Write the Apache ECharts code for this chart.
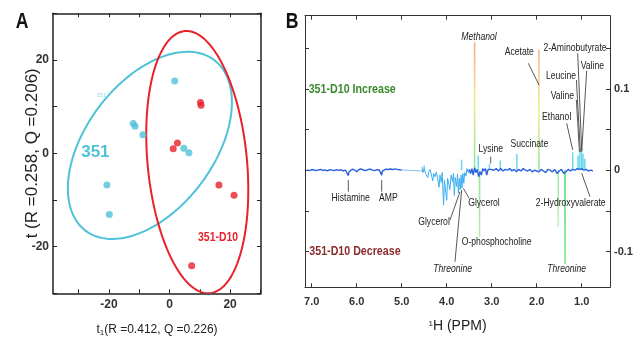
<!DOCTYPE html>
<html><head><meta charset="utf-8">
<script src="https://cdn.jsdelivr.net/npm/echarts@6/dist/echarts.min.js"></script>
<style>html,body{margin:0;padding:0;background:#fff}#c{width:640px;height:337px}</style>
</head><body><div id="c"></div>
<script>
// ---------- Panel A data ----------
const scores351 = [[1.7,15.5],[-12.0,6.4],[-11.4,5.8],[-8.8,4.0],[4.7,1.1],[6.4,0.1],[-20.7,-6.8],[-19.9,-13.1]];
const scoresD10 = [[10.4,10.3],[10.2,10.9],[2.6,2.2],[1.2,1.0],[16.3,-6.8],[21.3,-9.0],[7.3,-24.1]];
// ellipse: centre x, centre y, var x, var y, cov xy
const ellipse351 = [-6.5, 1.7, 734, 402, 250];
const ellipseD10 = [9.15, -1.9, 284, 790, -100];
const labelsA = [['351', -24.5, 0.3], ['351-D10', 16, -18], ['351', -22.5, 12.5]];
const ticksAx = [-30,-20,-10,0,10,20,30];
const ticksAy = [-30,-20,-10,0,10,20,30];
const tickLabelsAx = [-20,0,20];
const tickLabelsAy = [-20,0,20];

// ---------- Panel B data ----------
const baseLeft = [[7.10,0.0005],[7.05,-0.0005],[7.00,0.0008],[6.95,0.0002],[6.90,-0.0006],[6.85,0.0004],[6.80,0.0009],[6.75,-0.0003],[6.70,0.0003],[6.65,-0.0008],[6.60,0.0006],[6.55,0.0001],[6.50,-0.0004],[6.45,0.0007],[6.40,-0.0002],[6.35,0.0005],[6.30,-0.0009],[6.25,0.0002],[6.21,-0.0015],[6.19,-0.0065],[6.17,-0.002],[6.15,-0.0005],[6.10,0.0012],[6.05,0.0003],[6.00,-0.0018],[5.95,0.0009],[5.90,0.0015],[5.85,0.0002],[5.80,-0.0006],[5.75,0.0008],[5.70,0.0014],[5.65,0.0001],[5.60,-0.0005],[5.55,0.0006],[5.50,0.0002],[5.46,-0.001],[5.445,-0.006],[5.43,-0.0012],[5.40,0.0005],[5.35,0.0012],[5.30,0.0009],[5.25,0.0015],[5.20,0.0008],[5.15,0.0016],[5.10,0.001],[5.05,0.0006],[5.00,0.0003]];
const waterGap = [[5.00,0.0003],[4.55,-0.001]];
const baseMid = [[4.55,0.004],[4.53,-0.003],[4.50,0.002],[4.47,-0.004],[4.44,-0.002],[4.42,-0.009],[4.40,-0.002],[4.37,0.001],[4.34,-0.006],[4.31,-0.013],[4.29,-0.004],[4.26,-0.008],[4.23,-0.002],[4.20,-0.011],[4.17,-0.021],[4.15,-0.006],[4.12,-0.015],[4.10,-0.003],[4.07,-0.043],[4.05,-0.012],[4.02,-0.028],[4.00,-0.037],[3.98,-0.010],[3.95,-0.018],[3.93,-0.024],[3.90,-0.006],[3.87,-0.014],[3.85,-0.004],[3.83,-0.031],[3.81,-0.009],[3.78,-0.020],[3.76,-0.005],[3.74,-0.028],[3.72,-0.010],[3.70,-0.024],[3.68,-0.006],[3.66,-0.022],[3.64,-0.004],[3.62,-0.016],[3.60,-0.003],[3.57,-0.007],[3.55,0.002],[3.52,-0.003],[3.50,0.001]];
const baseRight = [[3.50,0.001],[3.47,-0.004],[3.44,0.002],[3.41,-0.006],[3.38,0.003],[3.35,-0.003],[3.32,0.001],[3.29,-0.008],[3.26,-0.002],[3.23,-0.006],[3.20,0.002],[3.17,-0.001],[3.14,0.002],[3.11,-0.006],[3.08,0.001],[3.05,0.002],[3.02,0.001],[3.00,0.002],[2.95,0.000],[2.90,0.002],[2.85,-0.001],[2.80,0.002],[2.75,-0.001],[2.70,0.001],[2.65,0.000],[2.60,0.002],[2.55,-0.001],[2.50,0.001],[2.45,-0.002],[2.40,0.001],[2.35,-0.001],[2.30,0.002],[2.25,0.000],[2.20,-0.001],[2.15,0.001],[2.10,-0.002],[2.05,0.000],[2.00,-0.001],[1.95,-0.002],[1.90,0.001],[1.85,-0.001],[1.80,-0.003],[1.75,0.001],[1.70,0.000],[1.65,-0.002],[1.60,0.001],[1.55,-0.004],[1.50,-0.001],[1.45,0.001],[1.40,-0.004],[1.35,-0.002],[1.30,0.001],[1.25,-0.001],[1.20,0.001],[1.15,0.000],[1.10,0.002],[1.05,0.001],[1.00,0.002],[0.95,0.000],[0.90,0.001],[0.85,-0.001],[0.80,0.000],[0.75,-0.001]];
const bigSpikes = [[3.38,0.157],[1.95,0.148],[3.27,-0.082],[1.37,-0.115],[1.52,-0.070]];
const smallPeaks = [[4.50,0.006],[3.67,0.013],[3.30,0.018],[3.05,0.008],[2.81,0.012],[2.44,0.020],[1.20,0.022],[1.08,0.018],[1.04,0.024],[1.00,0.026],[0.97,0.020],[0.93,0.014]];
const annotB = [['Methanol',3.282,0.1634],['Acetate',2.386,0.1457],['2-Aminobutyrate',1.148,0.1506],['Valine',0.763,0.1281],['Leucine',1.459,0.1158],['Valine',1.43,0.0912],['Ethanol',1.555,0.0658],['Lysine',3.022,0.0257],['Succinate',2.164,0.0322],['Histamine',6.134,-0.0338],['AMP',5.298,-0.0338],['Glycerol',4.282,-0.0634],['Glycerol',3.171,-0.0407],['Threonine',3.867,-0.1219],['O-phosphocholine',2.889,-0.0879],['2-Hydroxyvalerate',1.244,-0.0407],['Threonine',1.333,-0.1219]];
const leadersB = [[2.186,0.1315,1.948,0.1048],[1.088,0.1438,0.999,0.0248],[0.888,0.1224,0.999,0.0227],[1.117,0.1109,1.028,0.0227],[1.117,0.0863,1.05,0.0227],[1.333,0.0577,1.199,0.0249],[3.022,0.0166,3.022,0.0085],[6.187,-0.0121,6.187,-0.0264],[5.445,-0.0121,5.445,-0.0264],[3.927,-0.0613,3.704,-0.0265],[3.498,-0.0346,3.631,-0.0223],[3.816,-0.1125,3.667,-0.0244],[0.815,-0.0326,0.999,-0.0038]];
const titlesB = [['351-D10 Increase',6.10,0.0995],['351-D10 Decrease',6.04,-0.0994]];
const ticksBx = [1,2,3,4,5,6,7];
const ticksBy = [-0.1,-0.05,0,0.05,0.1,0.15];
const tickLabelsBy = [-0.1,0,0.1];

// ---------- styles ----------
const SANS = "'Liberation Sans',Arial,sans-serif";
const CYAN = '#4fc2d8', RED = '#e8222a';
const NARROW_SCALE = 0.82;
const italicNames = ['Methanol','Threonine'];
const titleColorsB = ['#3a8a2c','#8a2d2d'];
const spikeGradients = [
  [['#f6a88a',0],['#f2ea86',0.45],['#86e6a0',1]],
  [['#f7b48e',0],['#eff08a',0.5],['#8fe89a',1]],
  [['#8fe68e',0],['#b6f0a8',1]],
  [['#4fdc7c',0],['#7fe68a',1]],
  [['#a0eaa4',0],['#c2f2bc',1]]
];

const chart = echarts.init(document.getElementById('c'), null, {renderer:'canvas'});

function ellipseItem(color){
  return function(params, api){
    const cx=api.value(0), cy=api.value(1), sxx=api.value(2), syy=api.value(3), sxy=api.value(4);
    const a=Math.sqrt(sxx), c=sxy/a, d=Math.sqrt(syy-c*c);
    const pts=[];
    for(let i=0;i<=160;i++){const t=i/160*2*Math.PI; pts.push(api.coord([cx+a*Math.cos(t), cy+c*Math.cos(t)+d*Math.sin(t)]));}
    return {type:'polyline', shape:{points:pts}, style:{fill:null, stroke:color, lineWidth:2}};
  };
}
function narrowText(text, p, font, fill){
  return {type:'text', x:p[0], y:p[1], scaleX:NARROW_SCALE, style:{text:text, align:'center', verticalAlign:'middle', font:font, fill:fill}};
}
function axisCfg(o){
  return Object.assign({type:'value', splitLine:{show:false}}, o);
}
function frameLine(color,w){ return {show:true, onZero:false, lineStyle:{color:color,width:w}}; }
function ticks(vals,color){ return {show:true, inside:true, length:4, customValues:vals, lineStyle:{color:color}}; }

const option = {
  animation:false,
  grid:[
    {left:53, top:13.3, width:208, height:280, outerBoundsMode:'none', containLabel:false},
    {left:305, top:15.7, width:305, height:271.6, outerBoundsMode:'none', containLabel:false}
  ],
  xAxis:[
    axisCfg({gridIndex:0, min:-38.5, max:30.2, position:'bottom',
     axisLine:frameLine('#222',1.5), axisTick:ticks(ticksAx,'#222'),
     axisLabel:{customValues:tickLabelsAx, fontSize:12, fontFamily:SANS, fontWeight:'bold', color:'#333', margin:5},
     name:'t{s|1}(R =0.412, Q =0.226)', nameLocation:'middle', nameGap:29, nameMoveOverlap:false,
     nameTextStyle:{fontSize:12, fontFamily:SANS, color:'#222', rich:{s:{fontSize:8, fontFamily:SANS, padding:[6,0,0,0]}}}}),
    axisCfg({gridIndex:0, min:-38.5, max:30.2, position:'top', axisLine:frameLine('#222',1.5), axisTick:ticks(ticksAx,'#222'), axisLabel:{show:false}}),
    axisCfg({gridIndex:1, min:0.37, max:7.15, inverse:true, position:'bottom',
     axisLine:frameLine('#333',1), axisTick:ticks(ticksBx,'#333'),
     axisLabel:{customValues:ticksBx, formatter:v=>v.toFixed(1), fontSize:11, fontFamily:SANS, fontWeight:'bold', color:'#333', margin:9},
     name:'{s|1}H (PPM)', nameLocation:'middle', nameGap:32, nameMoveOverlap:false,
     nameTextStyle:{fontSize:14, fontFamily:SANS, color:'#222', rich:{s:{fontSize:8, fontFamily:SANS, padding:[0,0,6,0]}}}}),
    axisCfg({gridIndex:1, min:0.37, max:7.15, inverse:true, position:'top', axisLine:frameLine('#333',1), axisTick:ticks(ticksBx,'#333'), axisLabel:{show:false}})
  ],
  yAxis:[
    axisCfg({gridIndex:0, min:-30, max:30, position:'left',
     axisLine:frameLine('#222',1.5), axisTick:ticks(ticksAy,'#222'),
     axisLabel:{customValues:tickLabelsAy, fontSize:12, fontFamily:SANS, fontWeight:'bold', color:'#333', margin:4},
     name:'t (R =0.258, Q =0.206)', nameLocation:'middle', nameGap:12, nameRotate:90, nameMoveOverlap:false,
     nameTextStyle:{fontSize:17, fontFamily:SANS, color:'#222'}}),
    axisCfg({gridIndex:0, min:-30, max:30, position:'right', axisLine:frameLine('#222',1.5), axisTick:ticks(ticksAy,'#222'), axisLabel:{show:false}}),
    axisCfg({gridIndex:1, min:-0.144, max:0.19, position:'right',
     axisLine:frameLine('#333',1), axisTick:ticks(ticksBy,'#333'),
     axisLabel:{customValues:tickLabelsBy, fontSize:11, fontFamily:SANS, fontWeight:'bold', color:'#333', margin:4}}),
    axisCfg({gridIndex:1, min:-0.144, max:0.19, position:'left', axisLine:frameLine('#333',1), axisTick:ticks(ticksBy,'#333'), axisLabel:{show:false}})
  ],
  graphic:[
    {type:'text', x:22, y:22, scaleX:0.8, style:{text:'A', font:"bold 22px "+SANS, fill:'#111', align:'center', verticalAlign:'middle'}},
    {type:'text', x:292, y:22, scaleX:0.8, style:{text:'B', font:"bold 22px "+SANS, fill:'#111', align:'center', verticalAlign:'middle'}}
  ],
  series:[
    {type:'custom', xAxisIndex:0, yAxisIndex:0, data:[ellipse351], encode:{x:0,y:1}, clip:true, renderItem:ellipseItem(CYAN), z:2},
    {type:'custom', xAxisIndex:0, yAxisIndex:0, data:[ellipseD10], encode:{x:0,y:1}, clip:true, renderItem:ellipseItem(RED), z:2},
    {type:'scatter', xAxisIndex:0, yAxisIndex:0, data:scores351, symbolSize:7, itemStyle:{color:CYAN}, z:3},
    {type:'scatter', xAxisIndex:0, yAxisIndex:0, data:scoresD10, symbolSize:7, itemStyle:{color:RED}, z:3},
    {type:'custom', xAxisIndex:0, yAxisIndex:0, data:labelsA.map(l=>[l[1],l[2]]), encode:{x:0,y:1}, z:4,
     renderItem:(params, api)=>{
       const i=params.dataIndex, p=api.coord([api.value(0),api.value(1)]);
       const st=[["bold 17px "+SANS, CYAN, 1],["bold 13px "+SANS, RED, 0.8],["6px "+SANS, '#9fdbe6', 1]][i];
       const el=narrowText(labelsA[i][0], p, st[0], st[1]); el.scaleX=st[2]; return el;
     }},
    // Panel B spectrum
    {type:'line', xAxisIndex:2, yAxisIndex:2, data:baseLeft, showSymbol:false, lineStyle:{color:'#2a5ee0',width:1.4}, z:3},
    {type:'line', xAxisIndex:2, yAxisIndex:2, data:waterGap, showSymbol:false, lineStyle:{color:'#8cbcf0',width:1}, z:3},
    {type:'line', xAxisIndex:2, yAxisIndex:2, data:baseMid, showSymbol:false, lineStyle:{color:'#3aaef0',width:1}, z:3},
    {type:'line', xAxisIndex:2, yAxisIndex:2, data:baseRight, showSymbol:false, lineStyle:{color:'#2a5ee0',width:1.4}, z:3},
    {type:'custom', xAxisIndex:2, yAxisIndex:2, data:bigSpikes, encode:{x:0,y:1}, z:2,
     renderItem:(params, api)=>{
       const i=params.dataIndex, p0=api.coord([api.value(0),0]), p1=api.coord([api.value(0),api.value(1)]);
       const g=spikeGradients[i];
       const y=Math.min(p0[1],p1[1]), h=Math.abs(p1[1]-p0[1]);
       return {type:'rect', shape:{x:p0[0]-0.8, y:y, width:1.6, height:h},
         style:{fill:new echarts.graphic.LinearGradient(0,0,0,1,g.map(s=>({offset:s[1],color:s[0]})))}};
     }},
    {type:'custom', xAxisIndex:2, yAxisIndex:2, data:smallPeaks, encode:{x:0,y:1}, z:2,
     renderItem:(params, api)=>{
       const p0=api.coord([api.value(0),0]), p1=api.coord([api.value(0),api.value(1)]);
       return {type:'rect', shape:{x:p0[0]-0.7, y:p1[1], width:1.4, height:p0[1]-p1[1]}, style:{fill:'#5fd6ec'}};
     }},
    {type:'custom', xAxisIndex:2, yAxisIndex:2, data:leadersB, encode:{x:0,y:1}, z:4,
     renderItem:(params, api)=>{
       const a=api.coord([api.value(0),api.value(1)]), b=api.coord([api.value(2),api.value(3)]);
       return {type:'line', shape:{x1:a[0],y1:a[1],x2:b[0],y2:b[1]}, style:{stroke:'#444',lineWidth:0.9}};
     }},
    {type:'custom', xAxisIndex:2, yAxisIndex:2, data:annotB.map(a=>[a[1],a[2]]), encode:{x:0,y:1}, z:5,
     renderItem:(params, api)=>{
       const i=params.dataIndex, p=api.coord([api.value(0),api.value(1)]);
       const it=italicNames.indexOf(annotB[i][0])>=0;
       return narrowText(annotB[i][0], p, (it?'italic ':'')+"10.5px "+SANS, '#222');
     }},
    {type:'custom', xAxisIndex:2, yAxisIndex:2, data:titlesB.map(a=>[a[1],a[2]]), encode:{x:0,y:1}, z:5,
     renderItem:(params, api)=>{
       const i=params.dataIndex, p=api.coord([api.value(0),api.value(1)]);
       return narrowText(titlesB[i][0], p, "bold 13px "+SANS, titleColorsB[i]);
     }}
  ]
};
chart.setOption(option);
</script></body></html>
